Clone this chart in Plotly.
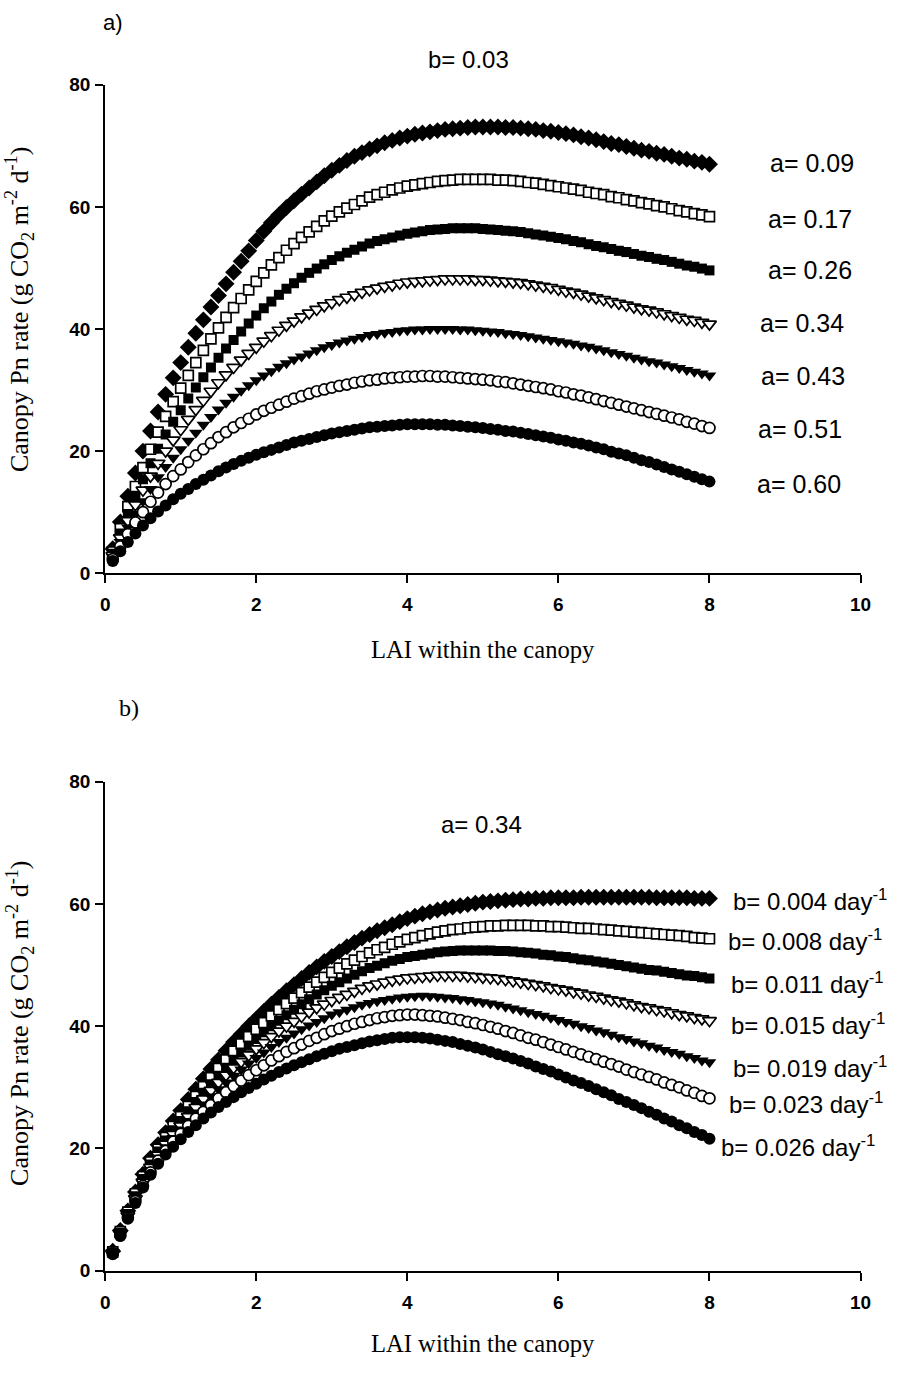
import plotly.graph_objects as go

# The page body keeps its default 8px margin, so the figure is sized to fill
# the 917x1379 window exactly once that margin is added.
PAGE_W, PAGE_H = 917, 1379
BODY_MARGIN = 8
W, H = PAGE_W - 2 * BODY_MARGIN, PAGE_H - 2 * BODY_MARGIN

# Leaf area index steps shared by every curve
LAI = [0.1, 0.2, 0.3, 0.4, 0.5, 0.6, 0.7, 0.8, 0.9, 1.0,
       1.1, 1.2, 1.3, 1.4, 1.5, 1.6, 1.7, 1.8, 1.9, 2.0,
       2.1, 2.2, 2.3, 2.4, 2.5, 2.6, 2.7, 2.8, 2.9, 3.0,
       3.1, 3.2, 3.3, 3.4, 3.5, 3.6, 3.7, 3.8, 3.9, 4.0,
       4.1, 4.2, 4.3, 4.4, 4.5, 4.6, 4.7, 4.8, 4.9, 5.0,
       5.1, 5.2, 5.3, 5.4, 5.5, 5.6, 5.7, 5.8, 5.9, 6.0,
       6.1, 6.2, 6.3, 6.4, 6.5, 6.6, 6.7, 6.8, 6.9, 7.0,
       7.1, 7.2, 7.3, 7.4, 7.5, 7.6, 7.7, 7.8, 7.9, 8.0]

# ---- Panel a: b = 0.03, varying a ----
a_labels = ["a= 0.09", "a= 0.17", "a= 0.26", "a= 0.34", "a= 0.43", "a= 0.51", "a= 0.60"]

pn_a009 = [4.0, 8.4, 12.6, 16.4, 20.0, 23.3, 26.4, 29.3, 32.0, 34.5,
           37.0, 39.3, 41.5, 43.6, 45.5, 47.4, 49.3, 51.1, 52.8, 54.5,
           56.0, 57.4, 58.7, 59.9, 61.0, 62.1, 63.1, 64.1, 65.1, 66.0,
           66.8, 67.6, 68.3, 68.9, 69.5, 70.0, 70.5, 70.9, 71.3, 71.6,
           71.9, 72.1, 72.3, 72.5, 72.7, 72.8, 72.9, 73.0, 73.1, 73.1,
           73.1, 73.1, 73.0, 73.0, 72.9, 72.8, 72.7, 72.5, 72.4, 72.2,
           72.0, 71.8, 71.5, 71.3, 71.0, 70.7, 70.4, 70.2, 69.9, 69.6,
           69.3, 69.1, 68.8, 68.6, 68.3, 68.0, 67.8, 67.5, 67.3, 67.0]

pn_a017 = [3.5, 7.3, 10.9, 14.2, 17.3, 20.3, 23.1, 25.7, 28.1, 30.3,
           32.4, 34.5, 36.5, 38.4, 40.2, 41.9, 43.5, 45.0, 46.4, 47.8,
           49.2, 50.5, 51.7, 52.9, 54.0, 55.0, 55.9, 56.8, 57.7, 58.5,
           59.2, 59.8, 60.4, 61.0, 61.6, 62.0, 62.4, 62.8, 63.1, 63.4,
           63.6, 63.8, 64.0, 64.2, 64.3, 64.4, 64.5, 64.5, 64.5, 64.5,
           64.5, 64.4, 64.4, 64.3, 64.2, 64.0, 63.9, 63.7, 63.5, 63.3,
           63.1, 62.9, 62.7, 62.4, 62.2, 62.0, 61.7, 61.5, 61.2, 61.0,
           60.7, 60.5, 60.2, 60.0, 59.7, 59.4, 59.2, 58.9, 58.7, 58.4]

pn_a026 = [3.2, 6.5, 9.7, 12.6, 15.4, 18.0, 20.4, 22.7, 24.8, 26.7,
           28.6, 30.4, 32.1, 33.7, 35.3, 36.8, 38.2, 39.6, 40.9, 42.2,
           43.4, 44.5, 45.6, 46.6, 47.5, 48.4, 49.2, 49.9, 50.6, 51.3,
           51.9, 52.5, 53.0, 53.5, 54.0, 54.4, 54.7, 55.0, 55.3, 55.6,
           55.8, 56.0, 56.2, 56.3, 56.4, 56.5, 56.5, 56.5, 56.5, 56.4,
           56.3, 56.2, 56.1, 56.0, 55.9, 55.7, 55.5, 55.3, 55.1, 54.9,
           54.7, 54.4, 54.2, 53.9, 53.6, 53.4, 53.1, 52.8, 52.6, 52.3,
           52.0, 51.8, 51.5, 51.3, 51.0, 50.7, 50.4, 50.2, 49.9, 49.6]

pn_a034 = [2.9, 5.8, 8.6, 11.2, 13.6, 15.9, 18.0, 20.0, 21.8, 23.5,
           25.2, 26.8, 28.3, 29.8, 31.2, 32.5, 33.7, 34.9, 36.0, 37.0,
           38.0, 38.9, 39.8, 40.6, 41.3, 42.0, 42.6, 43.2, 43.8, 44.3,
           44.8, 45.2, 45.6, 46.0, 46.4, 46.7, 47.0, 47.2, 47.5, 47.7,
           47.8, 47.9, 48.0, 48.1, 48.2, 48.2, 48.2, 48.2, 48.1, 48.1,
           48.0, 47.9, 47.8, 47.7, 47.6, 47.4, 47.2, 47.0, 46.8, 46.5,
           46.2, 46.0, 45.7, 45.4, 45.1, 44.8, 44.5, 44.2, 43.9, 43.6,
           43.3, 43.1, 42.8, 42.5, 42.2, 41.9, 41.6, 41.4, 41.1, 40.8]

pn_a043 = [2.6, 5.1, 7.5, 9.7, 11.8, 13.8, 15.7, 17.4, 18.9, 20.3,
           21.7, 23.0, 24.3, 25.6, 26.8, 27.9, 28.9, 29.9, 30.8, 31.6,
           32.4, 33.1, 33.8, 34.4, 35.0, 35.5, 36.0, 36.5, 37.0, 37.4,
           37.8, 38.1, 38.4, 38.7, 39.0, 39.2, 39.4, 39.5, 39.7, 39.8,
           39.9, 39.9, 40.0, 40.0, 40.0, 40.0, 39.9, 39.9, 39.8, 39.7,
           39.6, 39.5, 39.3, 39.2, 39.0, 38.8, 38.6, 38.4, 38.2, 38.0,
           37.8, 37.6, 37.3, 37.1, 36.8, 36.5, 36.2, 35.9, 35.6, 35.3,
           35.0, 34.7, 34.5, 34.2, 33.9, 33.6, 33.3, 33.0, 32.7, 32.4]

pn_a051 = [2.3, 4.4, 6.4, 8.3, 10.0, 11.7, 13.2, 14.6, 15.9, 17.0,
           18.2, 19.3, 20.3, 21.3, 22.3, 23.1, 23.9, 24.6, 25.3, 26.0,
           26.6, 27.1, 27.6, 28.1, 28.6, 29.0, 29.4, 29.8, 30.1, 30.4,
           30.7, 30.9, 31.2, 31.4, 31.6, 31.7, 31.9, 32.0, 32.1, 32.2,
           32.2, 32.3, 32.3, 32.2, 32.2, 32.1, 32.0, 31.9, 31.8, 31.7,
           31.6, 31.4, 31.3, 31.1, 30.9, 30.7, 30.5, 30.3, 30.1, 29.8,
           29.6, 29.3, 29.1, 28.8, 28.5, 28.2, 27.9, 27.6, 27.3, 27.0,
           26.7, 26.4, 26.1, 25.8, 25.5, 25.2, 24.8, 24.5, 24.1, 23.8]

pn_a060 = [2.0, 3.6, 5.1, 6.5, 7.8, 9.0, 10.1, 11.1, 12.1, 13.0,
           13.8, 14.6, 15.3, 16.0, 16.7, 17.3, 17.9, 18.4, 18.9, 19.4,
           19.8, 20.2, 20.6, 21.0, 21.4, 21.7, 22.0, 22.3, 22.6, 22.9,
           23.1, 23.3, 23.5, 23.7, 23.9, 24.0, 24.1, 24.2, 24.3, 24.4,
           24.4, 24.4, 24.4, 24.3, 24.3, 24.2, 24.1, 24.0, 23.9, 23.8,
           23.6, 23.5, 23.3, 23.2, 23.0, 22.8, 22.6, 22.4, 22.2, 21.9,
           21.7, 21.4, 21.2, 20.9, 20.6, 20.3, 19.9, 19.6, 19.3, 18.9,
           18.5, 18.2, 17.8, 17.4, 17.0, 16.6, 16.2, 15.8, 15.4, 15.0]

# ---- Panel b: a = 0.34, varying b ----
b_labels = ["b= 0.004 day<sup>-1</sup>", "b= 0.008 day<sup>-1</sup>",
            "b= 0.011 day<sup>-1</sup>", "b= 0.015 day<sup>-1</sup>",
            "b= 0.019 day<sup>-1</sup>", "b= 0.023 day<sup>-1</sup>",
            "b= 0.026 day<sup>-1</sup>"]

pn_b004 = [3.2, 6.6, 9.8, 12.9, 15.8, 18.4, 20.6, 22.6, 24.5, 26.2,
           28.0, 29.7, 31.4, 33.0, 34.5, 36.0, 37.4, 38.7, 40.0, 41.2,
           42.4, 43.6, 44.7, 45.8, 46.8, 47.8, 48.8, 49.7, 50.6, 51.4,
           52.2, 53.0, 53.7, 54.4, 55.0, 55.6, 56.1, 56.6, 57.1, 57.6,
           58.0, 58.4, 58.7, 59.0, 59.3, 59.5, 59.7, 59.9, 60.1, 60.3,
           60.4, 60.5, 60.6, 60.7, 60.8, 60.8, 60.9, 60.9, 61.0, 61.0,
           61.0, 61.0, 61.1, 61.1, 61.1, 61.1, 61.1, 61.1, 61.1, 61.1,
           61.1, 61.1, 61.0, 61.0, 61.0, 61.0, 61.0, 60.9, 60.9, 60.9]

pn_b008 = [3.1, 6.4, 9.6, 12.6, 15.4, 17.8, 19.9, 21.8, 23.6, 25.2,
           26.9, 28.5, 30.1, 31.6, 33.1, 34.5, 35.9, 37.1, 38.3, 39.5,
           40.6, 41.7, 42.7, 43.7, 44.6, 45.5, 46.4, 47.2, 48.0, 48.8,
           49.5, 50.2, 50.8, 51.4, 52.0, 52.5, 52.9, 53.4, 53.8, 54.2,
           54.5, 54.8, 55.1, 55.4, 55.6, 55.8, 55.9, 56.1, 56.2, 56.3,
           56.4, 56.4, 56.5, 56.5, 56.5, 56.5, 56.4, 56.4, 56.3, 56.3,
           56.2, 56.1, 56.0, 56.0, 55.9, 55.8, 55.7, 55.6, 55.5, 55.4,
           55.3, 55.2, 55.1, 55.0, 54.9, 54.8, 54.7, 54.5, 54.4, 54.3]

pn_b011 = [3.0, 6.2, 9.3, 12.2, 15.0, 17.4, 19.5, 21.3, 23.0, 24.5,
           26.1, 27.6, 29.1, 30.5, 31.9, 33.2, 34.5, 35.7, 36.8, 37.9,
           39.0, 40.0, 40.9, 41.8, 42.7, 43.6, 44.4, 45.2, 45.9, 46.6,
           47.2, 47.8, 48.4, 49.0, 49.5, 49.9, 50.3, 50.7, 51.0, 51.3,
           51.5, 51.7, 51.9, 52.1, 52.2, 52.3, 52.4, 52.4, 52.4, 52.4,
           52.4, 52.3, 52.3, 52.2, 52.1, 52.0, 51.9, 51.7, 51.6, 51.4,
           51.3, 51.1, 50.9, 50.8, 50.6, 50.4, 50.2, 50.0, 49.8, 49.6,
           49.4, 49.2, 49.1, 48.9, 48.7, 48.5, 48.3, 48.2, 48.0, 47.8]

pn_b015 = [2.9, 6.0, 9.0, 11.8, 14.5, 16.9, 18.9, 20.7, 22.3, 23.7,
           25.2, 26.7, 28.1, 29.5, 30.8, 32.0, 33.2, 34.2, 35.3, 36.3,
           37.3, 38.3, 39.2, 40.0, 40.8, 41.6, 42.3, 43.0, 43.6, 44.2,
           44.7, 45.2, 45.7, 46.2, 46.6, 46.9, 47.2, 47.5, 47.7, 47.9,
           48.0, 48.1, 48.2, 48.3, 48.3, 48.3, 48.3, 48.2, 48.1, 48.0,
           47.9, 47.8, 47.6, 47.4, 47.2, 47.0, 46.8, 46.6, 46.3, 46.1,
           45.9, 45.6, 45.4, 45.1, 44.9, 44.6, 44.3, 44.1, 43.8, 43.5,
           43.2, 43.0, 42.7, 42.5, 42.2, 41.9, 41.7, 41.4, 41.2, 40.9]

pn_b019 = [2.9, 5.9, 8.8, 11.6, 14.2, 16.5, 18.5, 20.2, 21.7, 23.1,
           24.5, 25.9, 27.2, 28.5, 29.7, 30.8, 31.9, 32.9, 33.9, 34.8,
           35.7, 36.6, 37.4, 38.1, 38.8, 39.5, 40.1, 40.7, 41.3, 41.9,
           42.3, 42.7, 43.1, 43.5, 43.8, 44.1, 44.3, 44.5, 44.7, 44.8,
           44.9, 45.0, 44.9, 44.8, 44.7, 44.6, 44.4, 44.3, 44.1, 43.9,
           43.7, 43.5, 43.2, 42.9, 42.6, 42.3, 42.0, 41.7, 41.4, 41.0,
           40.7, 40.4, 40.0, 39.7, 39.3, 39.0, 38.6, 38.2, 37.9, 37.5,
           37.2, 36.8, 36.5, 36.1, 35.8, 35.5, 35.1, 34.8, 34.4, 34.1]

pn_b023 = [2.8, 5.8, 8.7, 11.4, 13.9, 16.1, 18.0, 19.6, 21.1, 22.4,
           23.7, 24.9, 26.0, 27.1, 28.2, 29.2, 30.2, 31.1, 32.0, 32.8,
           33.6, 34.4, 35.1, 35.8, 36.4, 37.0, 37.6, 38.1, 38.7, 39.2,
           39.6, 40.0, 40.4, 40.7, 41.0, 41.3, 41.5, 41.7, 41.8, 41.9,
           41.9, 41.8, 41.7, 41.6, 41.4, 41.2, 41.0, 40.7, 40.5, 40.2,
           39.9, 39.6, 39.2, 38.9, 38.5, 38.1, 37.8, 37.4, 37.0, 36.6,
           36.2, 35.8, 35.4, 35.0, 34.6, 34.2, 33.8, 33.4, 32.9, 32.5,
           32.1, 31.7, 31.3, 30.8, 30.4, 30.0, 29.5, 29.1, 28.6, 28.2]

pn_b026 = [2.8, 5.7, 8.5, 11.1, 13.6, 15.7, 17.5, 19.0, 20.3, 21.5,
           22.7, 23.8, 24.9, 25.9, 26.8, 27.6, 28.4, 29.2, 29.9, 30.6,
           31.3, 31.9, 32.5, 33.1, 33.6, 34.1, 34.6, 35.1, 35.5, 35.9,
           36.3, 36.6, 36.9, 37.2, 37.5, 37.7, 37.9, 38.1, 38.2, 38.2,
           38.2, 38.1, 38.0, 37.8, 37.6, 37.4, 37.1, 36.8, 36.5, 36.2,
           35.8, 35.4, 35.1, 34.7, 34.3, 33.9, 33.4, 33.0, 32.6, 32.1,
           31.6, 31.1, 30.7, 30.2, 29.7, 29.2, 28.7, 28.1, 27.6, 27.1,
           26.6, 26.0, 25.5, 24.9, 24.4, 23.8, 23.3, 22.7, 22.2, 21.6]

X_TICKS = [0, 2, 4, 6, 8, 10]
Y_TICKS = [0, 20, 40, 60, 80]

series_a = [pn_a009, pn_a017, pn_a026, pn_a034, pn_a043, pn_a051, pn_a060]
series_b = [pn_b004, pn_b008, pn_b011, pn_b015, pn_b019, pn_b023, pn_b026]

# marker look for the seven curves (same order in both panels)
MARKERS = [
    dict(symbol="diamond", size=13, color="black", line=dict(width=0)),
    dict(symbol="square", size=10, color="white", line=dict(color="black", width=1.7)),
    dict(symbol="square", size=10, color="black", line=dict(width=0)),
    dict(symbol="triangle-down", size=12, color="white", line=dict(color="black", width=1.7)),
    dict(symbol="triangle-down", size=12, color="black", line=dict(width=0)),
    dict(symbol="circle", size=11, color="white", line=dict(color="black", width=1.7)),
    dict(symbol="circle", size=12, color="black", line=dict(width=0)),
]

# label anchor points (left x, centre y) in window pixels
A_LABEL_POS = [(785, 163), (783, 220), (783, 272), (775, 326), (776, 380), (773, 434), (772, 489)]
B_LABEL_POS = [(747, 912), (742, 953), (745, 996), (745, 1038), (747, 1082), (743, 1118), (735, 1162)]


def px(x):
    """window x pixel -> paper fraction"""
    return (x - BODY_MARGIN) / W


def py(y):
    """window y pixel -> paper fraction"""
    return 1 - (y - BODY_MARGIN) / H


fig = go.Figure()

for ys, mk in zip(series_a, MARKERS):
    fig.add_trace(go.Scatter(x=LAI, y=ys, mode="markers", marker=mk,
                             xaxis="x", yaxis="y", hoverinfo="skip"))
for ys, mk in zip(series_b, MARKERS):
    fig.add_trace(go.Scatter(x=LAI, y=ys, mode="markers", marker=mk,
                             xaxis="x2", yaxis="y2", hoverinfo="skip"))

tick_font = dict(family="Arial, Liberation Sans, sans-serif", size=19, color="black", weight="bold")
axis_common = dict(showline=True, linecolor="black", linewidth=2, ticks="outside",
                   ticklen=8, tickwidth=2, tickcolor="black", showgrid=False,
                   zeroline=False, tickfont=tick_font)

x_dom = [px(110), px(879)]
fig.update_layout(
    width=W, height=H,
    margin=dict(l=0, r=0, t=0, b=0),
    paper_bgcolor="white", plot_bgcolor="white",
    showlegend=False,
    xaxis=dict(domain=x_dom, range=[0, 10], tickvals=X_TICKS, anchor="y",
               ticklabelstandoff=5, **axis_common),
    yaxis=dict(domain=[py(580), py(84)], range=[0, 80], tickvals=Y_TICKS, anchor="x",
               ticklabelstandoff=1, **axis_common),
    xaxis2=dict(domain=x_dom, range=[0, 10], tickvals=X_TICKS, anchor="y2",
                ticklabelstandoff=5, **axis_common),
    yaxis2=dict(domain=[py(1288.5), py(791.7)], range=[0, 80], tickvals=Y_TICKS, anchor="x2",
                ticklabelstandoff=1, **axis_common),
)

sans = "Arial, Liberation Sans, sans-serif"
serif = "Times New Roman, Liberation Serif, serif"
ann = []


def note(text, x, y, size, family, xanchor="center", angle=0):
    ann.append(dict(text=text, x=px(x), y=py(y), xref="paper", yref="paper",
                    showarrow=False, xanchor=xanchor, yanchor="middle",
                    textangle=angle, font=dict(family=family, size=size, color="black")))


for lab, (lx, ly) in zip(a_labels, A_LABEL_POS):
    note(lab, lx, ly, 25, sans, xanchor="left")
for lab, (lx, ly) in zip(b_labels, B_LABEL_POS):
    note(lab, lx, ly, 24, sans, xanchor="left")

note("a)", 118, 21, 22, sans)
note("b)", 134, 717, 24, serif)
note("b= 0.03", 480, 58, 24, sans)
note("a= 0.34", 493, 835, 24, sans)

ytitle = "Canopy Pn rate (g CO<sub>2</sub> m<sup>-2</sup> d<sup>-1</sup>)"
note(ytitle, 23, 312, 26, serif, angle=-90)
note(ytitle, 23, 1037, 26, serif, angle=-90)
note("LAI within the canopy", 495, 657, 24.6, serif)
note("LAI within the canopy", 495, 1362, 24.6, serif)

fig.update_layout(annotations=ann)

fig.write_html("out.html")
